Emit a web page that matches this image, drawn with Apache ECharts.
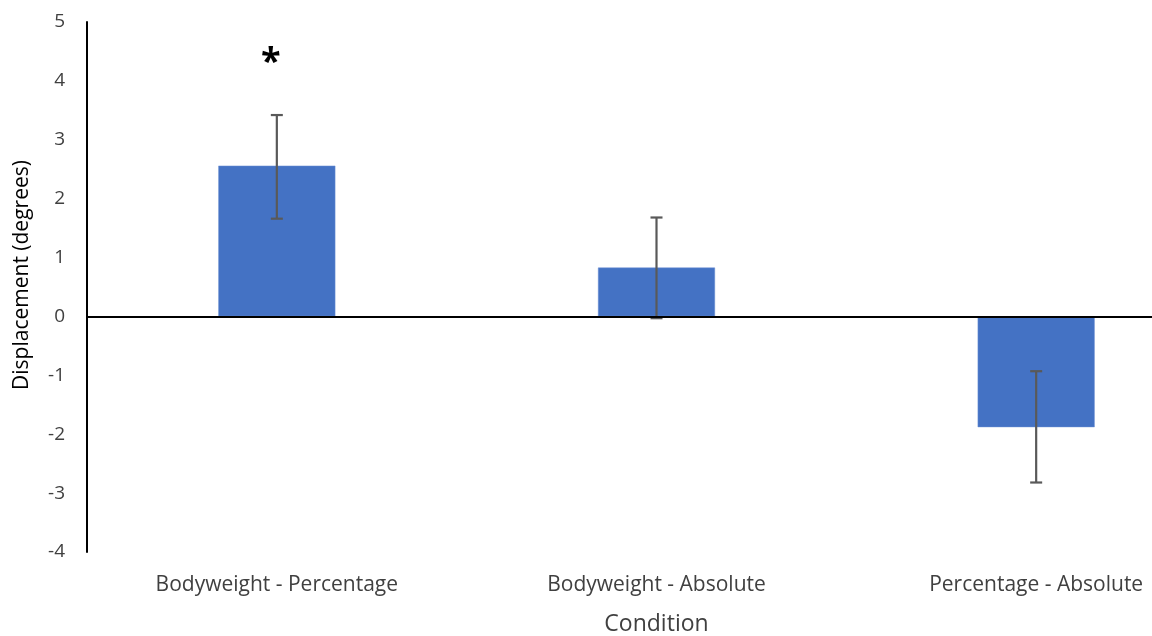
<!DOCTYPE html>
<html>
<head>
<meta charset="utf-8">
<script src="https://cdn.jsdelivr.net/npm/echarts@6/dist/echarts.min.js"></script>
<style>
  html, body { margin: 0; padding: 0; background: #fff; }
  #chart { width: 1152px; height: 636px; }
</style>
</head>
<body>
<div id="chart"></div>
<script>
// Mean displacement per condition, with error bar bounds (degrees)
const categories = ['Bodyweight - Percentage', 'Bodyweight - Absolute', 'Percentage - Absolute'];
const means = [2.56, 0.83, -1.88];
const errLow = [1.66, -0.03, -2.82];
const errHigh = [3.42, 1.68, -0.93];
const significance = ['*', '', ''];
const yTicks = [-4, -3, -2, -1, 0, 1, 2, 3, 4, 5];

const font = '"Open Sans", "Liberation Sans", sans-serif';
const chart = echarts.init(document.getElementById('chart'));

const errorData = categories.map((c, i) => [i, errLow[i], errHigh[i]]);
const starData = categories.map((c, i) => significance[i] ? { coord: [i, 4.35], value: significance[i] } : null).filter(Boolean);

chart.setOption({
  animation: false,
  grid: { left: 87, top: 22, width: 1139, height: 530, containLabel: false, outerBoundsMode: 'none' },
  xAxis: {
    type: 'category',
    data: categories,
    name: 'Condition',
    nameLocation: 'middle',
    nameGap: 61,
    nameTextStyle: { fontFamily: font, fontSize: 23, color: '#404040' },
    axisLine: { show: false, onZero: false },
    axisTick: { show: false },
    axisLabel: { interval: 0, fontFamily: font, fontSize: 21, color: '#404040', margin: 23 },
    splitLine: { show: false }
  },
  yAxis: {
    type: 'value',
    min: yTicks[0],
    max: yTicks[yTicks.length - 1],
    interval: 1,
    name: 'Displacement (degrees)',
    nameLocation: 'middle',
    nameGap: 54,
    nameRotate: 90,
    nameTextStyle: { fontFamily: font, fontSize: 21, color: '#000', padding: [0, 0, 0, 24] },
    axisLine: { show: true, lineStyle: { color: '#000', width: 2 } },
    axisTick: { show: false },
    axisLabel: { fontFamily: font, fontSize: 19, color: '#404040', margin: 22 },
    splitLine: { show: false }
  },
  series: [
    {
      type: 'bar',
      data: means,
      barWidth: 117,
      itemStyle: { color: '#4472C4', borderColor: '#6a8fd3', borderWidth: 0.5 },
      markPoint: {
        symbol: 'rect',
        symbolSize: 0,
        label: { show: true, formatter: p => p.value, fontFamily: font, fontSize: 36, fontWeight: 'bold', color: '#000', offset: [-6, 2] },
        data: starData
      },
      markLine: {
        silent: true,
        symbol: 'none',
        label: { show: false },
        lineStyle: { color: '#000', width: 2, type: 'solid' },
        data: [{ yAxis: 0 }]
      },
      z: 1
    },
    {
      type: 'custom',
      data: errorData,
      renderItem: (params, api) => {
        const x = api.value(0);
        const lo = api.coord([x, api.value(1)]);
        const hi = api.coord([x, api.value(2)]);
        const cap = 6;
        const style = { stroke: '#595959', lineWidth: 2.2 };
        return {
          type: 'group',
          children: [
            { type: 'line', shape: { x1: lo[0], y1: lo[1], x2: hi[0], y2: hi[1] }, style },
            { type: 'line', shape: { x1: hi[0] - cap, y1: hi[1], x2: hi[0] + cap, y2: hi[1] }, style },
            { type: 'line', shape: { x1: lo[0] - cap, y1: lo[1], x2: lo[0] + cap, y2: lo[1] }, style }
          ]
        };
      },
      z: 3
    }
  ]
});
</script>
</body>
</html>
